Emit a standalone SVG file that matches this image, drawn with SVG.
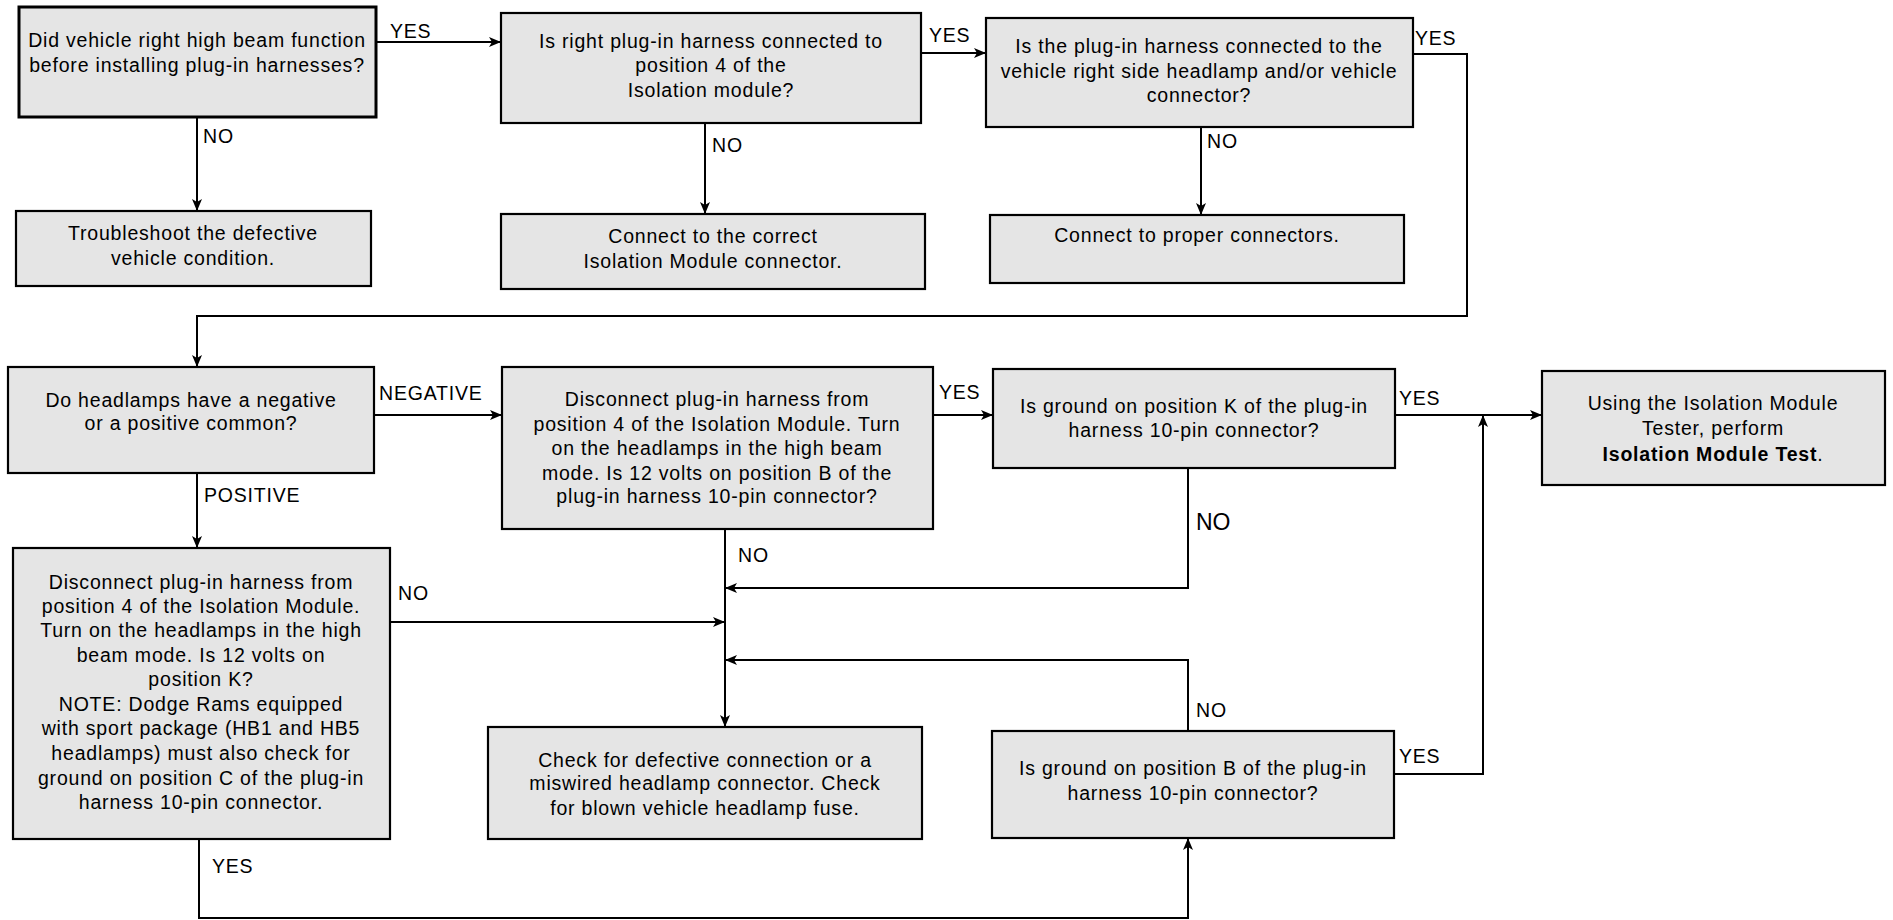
<svg xmlns="http://www.w3.org/2000/svg" width="1893" height="920" viewBox="0 0 1893 920">
<style>
.box{fill:#e5e5e5;stroke:#000;stroke-width:2.2}
.thick{stroke-width:3}
text{font-family:"Liberation Sans",Arial,sans-serif;font-size:19.5px;letter-spacing:0.8px;fill:#000}
.c{text-anchor:middle}
.big{font-size:23px;letter-spacing:0}
.conn{fill:none;stroke:#000;stroke-width:2}
</style>
<defs>
<marker id="ah" viewBox="0 0 12 10" refX="11" refY="5" markerWidth="12" markerHeight="10" markerUnits="userSpaceOnUse" orient="auto">
<path d="M0,0 L12,5 L0,10 L3,5 z" fill="#000"/>
</marker>
</defs>
<rect width="1893" height="920" fill="#fff"/>

<g id="connectors">
<path class="conn" d="M376,42 H500" marker-end="url(#ah)"/>
<path class="conn" d="M197,117 V210" marker-end="url(#ah)"/>
<path class="conn" d="M921,53 H985" marker-end="url(#ah)"/>
<path class="conn" d="M705,123 V213" marker-end="url(#ah)"/>
<path class="conn" d="M1201,127 V214" marker-end="url(#ah)"/>
<path class="conn" d="M1413,54 H1467 V316 H197 V366" marker-end="url(#ah)"/>
<path class="conn" d="M374,415 H501" marker-end="url(#ah)"/>
<path class="conn" d="M197,473 V547" marker-end="url(#ah)"/>
<path class="conn" d="M933,415 H992" marker-end="url(#ah)"/>
<path class="conn" d="M1395,415 H1541" marker-end="url(#ah)"/>
<path class="conn" d="M725,529 V726" marker-end="url(#ah)"/>
<path class="conn" d="M1188,468 V588 H726" marker-end="url(#ah)"/>
<path class="conn" d="M390,622 H724" marker-end="url(#ah)"/>
<path class="conn" d="M1188,731 V660 H726" marker-end="url(#ah)"/>
<path class="conn" d="M1394,774 H1483 V416" marker-end="url(#ah)"/>
<path class="conn" d="M199,839 V918 H1188 V839" marker-end="url(#ah)"/>
<text x="390" y="38">YES</text>
<text x="203" y="143">NO</text>
<text x="929" y="42">YES</text>
<text x="712" y="152">NO</text>
<text x="1207" y="148">NO</text>
<text x="1415" y="45">YES</text>
<text x="379" y="400">NEGATIVE</text>
<text x="204" y="502">POSITIVE</text>
<text x="939" y="399">YES</text>
<text x="1399" y="405">YES</text>
<text x="738" y="562">NO</text>
<text class="big" x="1196" y="530">NO</text>
<text x="398" y="600">NO</text>
<text x="212" y="873">YES</text>
<text x="1196" y="717">NO</text>
<text x="1399" y="763">YES</text>
</g>

<g id="n1">
<rect class="box thick" x="19" y="7" width="357" height="110"/>
<text class="c" x="197" y="47">Did vehicle right high beam function</text>
<text class="c" x="197" y="72">before installing plug-in harnesses?</text>
</g>
<g id="n2">
<rect class="box" x="16" y="211" width="355" height="75"/>
<text class="c" x="193" y="240">Troubleshoot the defective</text>
<text class="c" x="193" y="265">vehicle condition.</text>
</g>
<g id="n3">
<rect class="box" x="501" y="13" width="420" height="110"/>
<text class="c" x="711" y="48">Is right plug-in harness connected to</text>
<text class="c" x="711" y="72">position 4 of the</text>
<text class="c" x="711" y="97">Isolation module?</text>
</g>
<g id="n4">
<rect class="box" x="501" y="214" width="424" height="75"/>
<text class="c" x="713" y="243">Connect to the correct</text>
<text class="c" x="713" y="268">Isolation Module connector.</text>
</g>
<g id="n5">
<rect class="box" x="986" y="18" width="427" height="109"/>
<text class="c" x="1199" y="53">Is the plug-in harness connected to the</text>
<text class="c" x="1199" y="78">vehicle right side headlamp and/or vehicle</text>
<text class="c" x="1199" y="102">connector?</text>
</g>
<g id="n6">
<rect class="box" x="990" y="215" width="414" height="68"/>
<text class="c" x="1197" y="242">Connect to proper connectors.</text>
</g>
<g id="n7">
<rect class="box" x="8" y="367" width="366" height="106"/>
<text class="c" x="191" y="407">Do headlamps have a negative</text>
<text class="c" x="191" y="430">or a positive common?</text>
</g>
<g id="n8">
<rect class="box" x="502" y="367" width="431" height="162"/>
<text class="c" x="717" y="406">Disconnect plug-in harness from</text>
<text class="c" x="717" y="431">position 4 of the Isolation Module. Turn</text>
<text class="c" x="717" y="455">on the headlamps in the high beam</text>
<text class="c" x="717" y="480">mode. Is 12 volts on position B of the</text>
<text class="c" x="717" y="503">plug-in harness 10-pin connector?</text>
</g>
<g id="n9">
<rect class="box" x="993" y="369" width="402" height="99"/>
<text class="c" x="1194" y="413">Is ground on position K of the plug-in</text>
<text class="c" x="1194" y="437">harness 10-pin connector?</text>
</g>
<g id="n10">
<rect class="box" x="1542" y="371" width="343" height="114"/>
<text class="c" x="1713" y="410">Using the Isolation Module</text>
<text class="c" x="1713" y="435">Tester, perform</text>
<text class="c" x="1713" y="461"><tspan font-weight="bold">Isolation Module Test</tspan>.</text>
</g>
<g id="n11">
<rect class="box" x="13" y="548" width="377" height="291"/>
<text class="c" x="201" y="589">Disconnect plug-in harness from</text>
<text class="c" x="201" y="613">position 4 of the Isolation Module.</text>
<text class="c" x="201" y="637">Turn on the headlamps in the high</text>
<text class="c" x="201" y="662">beam mode. Is 12 volts on</text>
<text class="c" x="201" y="686">position K?</text>
<text class="c" x="201" y="711">NOTE: Dodge Rams equipped</text>
<text class="c" x="201" y="735">with sport package (HB1 and HB5</text>
<text class="c" x="201" y="760">headlamps) must also check for</text>
<text class="c" x="201" y="785">ground on position C of the plug-in</text>
<text class="c" x="201" y="809">harness 10-pin connector.</text>
</g>
<g id="n12">
<rect class="box" x="488" y="727" width="434" height="112"/>
<text class="c" x="705" y="767">Check for defective connection or a</text>
<text class="c" x="705" y="790">miswired headlamp connector. Check</text>
<text class="c" x="705" y="815">for blown vehicle headlamp fuse.</text>
</g>
<g id="n13">
<rect class="box" x="992" y="731" width="402" height="107"/>
<text class="c" x="1193" y="775">Is ground on position B of the plug-in</text>
<text class="c" x="1193" y="800">harness 10-pin connector?</text>
</g>
</svg>
